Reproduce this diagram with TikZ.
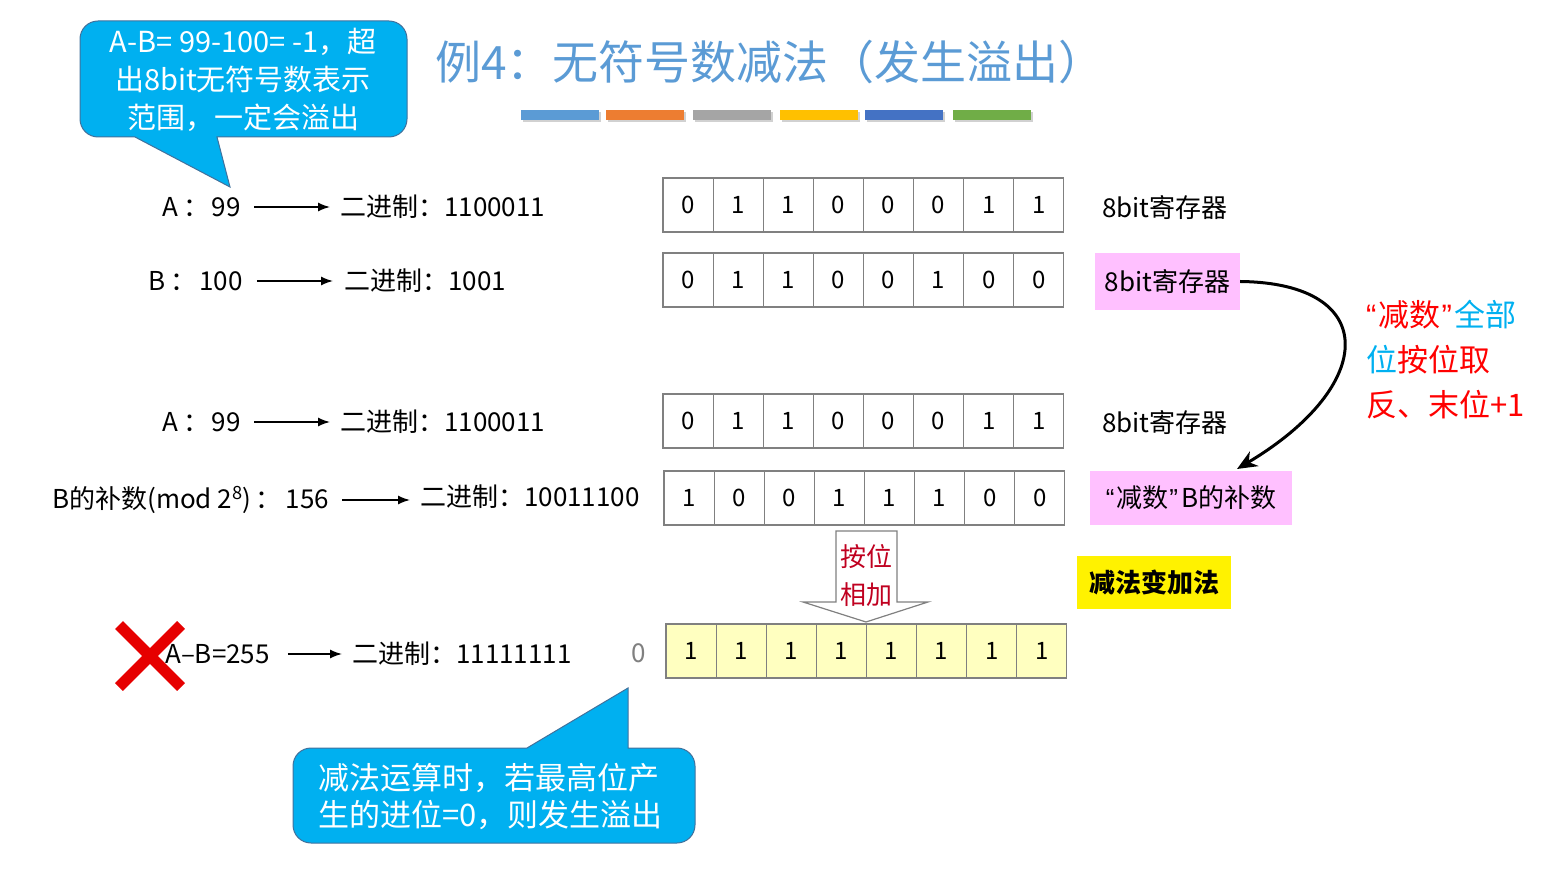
\documentclass[tikz,border=0pt]{standalone}
\usepackage{fontspec}
\setmainfont{Noto Sans CJK SC}
\newfontfamily\lat{Liberation Sans}
\usetikzlibrary{arrows.meta}
\definecolor{cyanbox}{HTML}{00B0F0}
\definecolor{cyanedge}{HTML}{41719C}
\definecolor{titleblue}{HTML}{5B9BD5}
\definecolor{barA}{HTML}{5B9BD5}
\definecolor{barB}{HTML}{ED7D31}
\definecolor{barC}{HTML}{A5A5A5}
\definecolor{barD}{HTML}{FFC000}
\definecolor{barE}{HTML}{4472C4}
\definecolor{barF}{HTML}{70AD47}
\definecolor{cellgray}{HTML}{808080}
\definecolor{pinkbox}{HTML}{FFC0FF}
\definecolor{lightyel}{HTML}{FFFFC0}
\definecolor{darkred}{HTML}{C00020}
\definecolor{xred}{HTML}{E60000}
\newcommand{\myLq}{{\lat “}\hspace{2pt}}
\newcommand{\myRq}{\hspace{1pt}{\lat ”}\hspace{3pt}}
\begin{document}
\begin{tikzpicture}[x=1pt,y=-1pt,
  lbl/.style={anchor=west,inner sep=0pt,font=\fontsize{26}{26}\selectfont},
  cell/.style={draw=cellgray,line width=1.2pt,minimum width=50.1pt,minimum height=54pt,inner sep=0pt,font=\fontsize{24}{24}\selectfont},
  ycell/.style={cell,fill=lightyel},
  arr/.style={line width=1.5pt,-{Latex[length=12pt,width=9pt]}},
  callout/.style={fill=cyanbox,draw=cyanedge,line width=1pt},
  ctext/.style={text=white,inner sep=0pt}]
\useasboundingbox (0,0) rectangle (1556,882);

% title
\node[anchor=west,inner sep=0pt,text=titleblue,font=\fontsize{46}{46}\selectfont] (title) at (435,62) {例4：无符号数减法（发生溢出）};
\foreach \c/\xa in {barA/521,barB/606,barC/693,barD/780,barE/865,barF/953}{
  \fill[black!18] (\xa+1.5,112) rectangle (\xa+79.5,122.5);
  \fill[\c] (\xa,110) rectangle (\xa+78,120);
}

% callout 1
\draw[callout] (300,21) [rounded corners=18pt] -- (407,21) -- (407,137) [sharp corners] -- (217,137) -- (230,187) -- (135,137) -- (134,137) [rounded corners=18pt] -- (80,137) -- (80,21) -- cycle;
\node[ctext,align=center,font=\fontsize{29}{38}\selectfont] (c1text) at (243,80) {A-B= 99-100= -1，超\\出8bit无符号数表示\\范围，一定会溢出};

% row 1
\node[lbl] (a1) at (162,207) {A\hspace{5pt}：\hspace{3pt}99};
\node[lbl] (b1) at (340,207) {二进制：1100011};
\draw[arr] ([xshift=13pt]a1.east) -- ([xshift=-10pt]b1.west |- a1.east);
\foreach \v [count=\i] in {0,1,1,0,0,0,1,1}
  \node[cell] (ra\i) at ({663+50.1*(\i-0.5)},205) {\v};
\node[lbl] (reg1) at (1102,208) {8bit寄存器};

% row 2
\node[lbl] (a2) at (148,281) {B\hspace{5pt}：\hspace{3pt}100};
\node[lbl] (b2) at (344,281) {二进制：1001};
\draw[arr] ([xshift=14pt]a2.east) -- ([xshift=-11pt]b2.west |- a2.east);
\foreach \v [count=\i] in {0,1,1,0,0,1,0,0}
  \node[cell] (rb\i) at ({663+50.1*(\i-0.5)},280) {\v};
\node[fill=pinkbox,minimum width=145pt,minimum height=57pt,inner sep=0pt,font=\fontsize{26}{26}\selectfont] (pk2) at (1167.5,281.5) {8bit寄存器};

% row 3
\node[lbl] (a3) at (162,422) {A\hspace{5pt}：\hspace{3pt}99};
\node[lbl] (b3) at (340,422) {二进制：1100011};
\draw[arr] ([xshift=13pt]a3.east) -- ([xshift=-10pt]b3.west |- a3.east);
\foreach \v [count=\i] in {0,1,1,0,0,0,1,1}
  \node[cell] (rc\i) at ({663+50.1*(\i-0.5)},421) {\v};
\node[lbl] (reg3) at (1102,423) {8bit寄存器};

% row 4
\node[lbl] (a4) at (52,500) {B的补数(mod 2\textsuperscript{8})\hspace{4pt}：\hspace{4pt}156};
\node[lbl] (b4) at (420,497) {二进制：10011100};
\draw[arr] ([xshift=13pt]a4.east) -- ([xshift=-10pt]b4.west |- a4.east);
\foreach \v [count=\i] in {1,0,0,1,1,1,0,0}
  \node[cell] (rd\i) at ({664+50.1*(\i-0.5)},498) {\v};
\node[fill=pinkbox,minimum width=202pt,minimum height=54pt,inner sep=0pt,font=\fontsize{26}{26}\selectfont] (pk4) at (1191,498) {\myLq 减数\myRq B的补数};

% curved arrow
\coordinate (tipB) at (1237,469);
\draw[line width=3pt,-{Stealth[length=20pt,width=17pt]}] (pk2.east) .. controls (1380,283) and (1378,385) .. (tipB);

% side text
\node[anchor=west,inner sep=0pt,align=left,font=\fontsize{31}{45}\selectfont] (side) at (1366,360) {{\color{red}\myLq 减数\myRq}{\color{cyanbox}全部}\\{\color{cyanbox}位}{\color{red}按位取}\\{\color{red}反、末位+1}};

% hollow arrow
\draw[draw=cellgray,fill=white,line width=1.2pt] (836,531) -- (897,531) -- (897,602) -- (928,602) -- (866,622) -- (803,602) -- (836,602) -- cycle;
\node[text=darkred,align=center,inner sep=0pt,font=\fontsize{26}{38}\selectfont] (addtxt) at (866,576) {按位\\相加};

% yellow box
\node[fill=yellow,minimum width=154pt,minimum height=53pt,inner sep=0pt,font=\bfseries\fontsize{26}{26}\selectfont] (ybox) at (1154,582.5) {减法变加法};

% row 5
\node[lbl] (a5) at (165,654) {A–B=255};
\node[lbl] (b5) at (352,654) {二进制：11111111};
\draw[arr] ([xshift=18pt]a5.east) -- ([xshift=-10pt]b5.west |- a5.east);
\node[lbl,text=cellgray] (carry) at (631,653) {0};
\foreach \v [count=\i] in {1,1,1,1,1,1,1,1}
  \node[ycell] (re\i) at ({666+50.1*(\i-0.5)},651) {\v};
\draw[xred,line width=11pt] (119,625) -- (181,687) (181,625) -- (119,687);

% callout 2
\draw[callout] (400,843) [rounded corners=18pt] -- (293,843) -- (293,748) [sharp corners] -- (527,748) -- (628,688) -- (628,748) -- (629,748) [rounded corners=18pt] -- (695,748) -- (695,843) -- cycle;
\node[ctext,anchor=west,align=left,font=\fontsize{31}{37}\selectfont] (c2text) at (318,797) {减法运算时，若最高位产\\生的进位=0，则发生溢出};
\end{tikzpicture}
\end{document}
